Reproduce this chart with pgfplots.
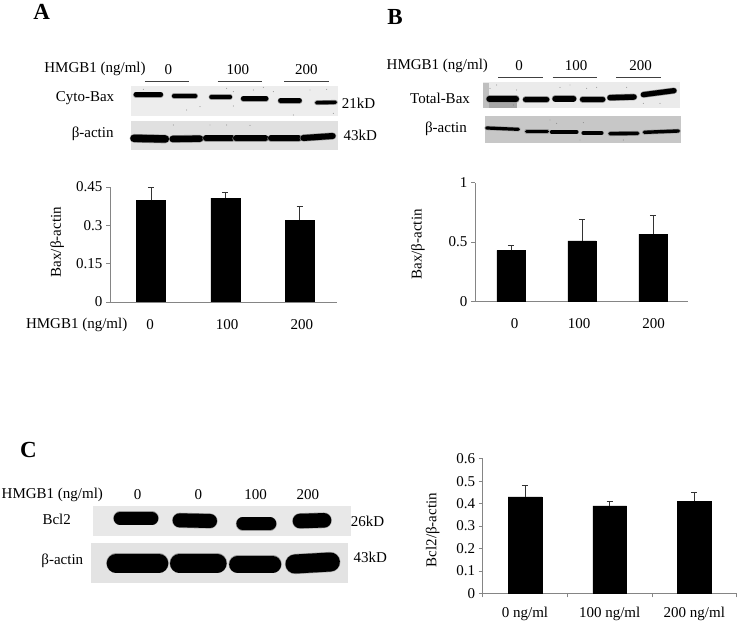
\documentclass[border=0pt]{standalone}
\usepackage{pgfplots}
\pgfplotsset{compat=1.18}
\usepackage{fontspec}
\setmainfont{Liberation Serif}
\newcommand{\lab}{\fontsize{15}{17}\selectfont}
\definecolor{axgray}{HTML}{858585}
% band: x1,y1,x2,y2,thickness (zoomed coordinates)
\newcommand{\band}[5]{%
  \draw[line width=#5pt+1.2pt,line cap=round,black!40] (#1,#2)--(#3,#4);
  \draw[line width=#5pt,line cap=round,black] (#1,#2)--(#3,#4);}
\newcommand{\specks}[1]{\foreach \px/\py in {#1} \fill[black!55] (\px,\py) circle (0.45pt);}
\pgfplotsset{
  panel/.style={
    scale only axis,
    anchor=south west,
    ybar,
    bar shift=0pt,
    ymin=0,
    axis x line*=bottom,
    axis y line*=left,
    xtick pos=bottom,
    ytick pos=left,
    tick align=outside,
    axis line style={axgray,line width=0.7pt},
    tick style={axgray,line width=0.7pt},
    major tick length=4pt,
    xtick style={draw=none},
    scaled y ticks=false,
    tick label style={font=\lab},
    label style={font=\lab},
    /pgf/number format/assume math mode=true,
    error bars/y dir=plus,
    error bars/y explicit,
    error bars/error bar style={black!80,line width=0.9pt},
    error bars/error mark options={rotate=90,mark size=3.1pt,black!80,line width=0.9pt},
  },
}
\begin{document}
\begin{tikzpicture}[x=1pt,y=1pt]
\path[use as bounding box] (0,0) rectangle (739,621);

% ---------- Panel A axis
\begin{axis}[panel,at={(110pt,319pt)},width=227pt,height=115pt,
  xmin=-0.552,xmax=2.503,ymax=0.45,bar width=29pt,
  xtick={-0.013,1.023,2.03},
  xticklabels={0,100,200},
  xticklabel style={yshift=-10pt},
  ytick={0,0.15,0.3,0.45},yticklabels={0,0.15,0.3,0.45},
  ylabel={Bax/β-actin},
  y label style={at={(axis description cs:-0.233,0.52)},anchor=center}]
\addplot[fill=black,draw=black] coordinates {(0,0.398) +- (0,0.051) (1,0.406) +- (0,0.022) (2,0.32) +- (0,0.052)};
\end{axis}

% ---------- Panel B axis
\begin{axis}[panel,at={(475pt,319.7pt)},width=213pt,height=118.7pt,
  xmin=-0.507,xmax=2.493,ymax=1,bar width=28.3pt,
  xtick={0.05,0.958,2.01},
  xticklabels={0,100,200},
  xticklabel style={yshift=-10pt},
  ytick={0,0.5,1},yticklabels={0,0.5,1},
  ylabel={Bax/β-actin},
  y label style={at={(axis description cs:-0.268,0.48)},anchor=center}]
\addplot[fill=black,draw=black] coordinates {(0,0.43) +- (0,0.04) (1,0.508) +- (0,0.182) (2,0.565) +- (0,0.16)};
\end{axis}

% ---------- Panel C axis
\begin{axis}[panel,at={(482.7pt,27.7pt)},width=254pt,height=134.6pt,
  xmin=-0.5,xmax=2.5,ymax=0.6,bar width=33.7pt,
  xtick={0,1,2},
  xticklabels={0 ng/ml,100 ng/ml,200 ng/ml},
  xticklabel style={yshift=-6pt},
  minor xtick={-0.5,0.5,1.5,2.5},
  minor x tick style={draw=axgray,line width=0.7pt},
  minor tick length=4pt,
  ytick={0,0.1,0.2,0.3,0.4,0.5,0.6},yticklabels={0,0.1,0.2,0.3,0.4,0.5,0.6},
  ylabel={Bcl2/β-actin},
  y label style={at={(axis description cs:-0.197,0.47)},anchor=center}]
\addplot[fill=black,draw=black] coordinates {(0,0.43) +- (0,0.05) (1,0.39) +- (0,0.02) (2,0.41) +- (0,0.04)};
\end{axis}

% ---------- Panel A annotations and blots (coordinates: 3x zoom from top-left)
\begin{scope}[x=0.33333pt,y=-0.33333pt,shift={(0pt,621pt)},every node/.style={font=\lab,inner sep=0pt}]
\node[font=\fontsize{23}{25}\selectfont\bfseries] at (125,37) {A};
\node at (285,208) {HMGB1 (ng/ml)};
\node at (505,208) {0};
\node at (714,208) {100};
\node at (919,208) {200};
\foreach \a/\b in {435/568,653/786,853/987} \draw[black!75,line width=0.8pt] (\a,245)--(\b,245);
\node at (255,295) {Cyto-Bax};
\node at (278,400) {β-actin};
\fill[black!7] (392,258) rectangle (1015,348);
\fill[black!12] (392,363) rectangle (1015,449);
\specks{430/268,560/330,600/320,680/265,700/275,700/318,760/270,790/262,820/275,880/345,930/270,980/268,1000/340,520/375,630/375,680/375,750/376}
\band{408}{284}{482}{284}{4.8}
\band{522}{288}{586}{288}{4.2}
\band{634}{291}{690}{291}{4.2}
\band{730}{296}{798}{296}{4.8}
\band{842}{302}{898}{302}{5}
\band{950}{308}{1006}{307}{3.6}
\band{402}{415}{496}{417}{7.5}
\band{518}{417}{600}{416}{6.5}
\band{618}{415}{696}{415}{6}
\band{708}{415}{796}{415}{6}
\band{813}{415}{896}{415}{6}
\band{910}{414}{998}{408}{6}
\node[anchor=west] at (1025,311) {21kD};
\node[anchor=west] at (1030,405) {43kD};
\node at (230,975) {HMGB1 (ng/ml)};
\end{scope}

% ---------- Panel B annotations and blots
\begin{scope}[x=0.33333pt,y=-0.33333pt,shift={(370pt,621pt)},every node/.style={font=\lab,inner sep=0pt}]
\node[font=\fontsize{23}{25}\selectfont\bfseries] at (75,50) {B};
\node at (202,198) {HMGB1 (ng/ml)};
\node at (447,198) {0};
\node at (618,198) {100};
\node at (812,198) {200};
\foreach \a/\b in {385/519,548/681,738/872} \draw[black!75,line width=0.8pt] (\a,233)--(\b,233);
\node at (210,296) {Total-Bax};
\node at (228,385) {β-actin};
\fill[black!8] (340,247) rectangle (930,325);
\fill[black!22] (345,349) rectangle (933,430);
\fill[black!35] (340,310) rectangle (440,325);
\fill[black!25] (340,250) rectangle (356,325);
\specks{360/265,380/255,440/270,430/315,570/262,600/255,650/265,680/262,770/262,820/310,870/310,540/360,560/370,640/368,630/420,760/420}
\band{358}{297}{438}{297}{6}
\band{467}{299}{530}{299}{5.5}
\band{556}{296}{610}{296}{6}
\band{638}{298}{698}{298}{5.5}
\band{720}{293}{792}{291}{5.5}
\band{820}{284}{912}{272}{5.2}
\band{350}{384}{445}{388}{3.2}
\band{470}{394}{532}{394}{3.6}
\band{545}{396}{620}{396}{3.6}
\band{640}{399}{695}{399}{3.6}
\band{720}{401}{803}{400}{3.6}
\band{823}{397}{925}{393}{3.4}
\end{scope}

% ---------- Panel C annotations and blots
\begin{scope}[x=0.33333pt,y=-0.33333pt,shift={(0pt,191pt)},every node/.style={font=\lab,inner sep=0pt}]
\node[font=\fontsize{23}{25}\selectfont\bfseries] at (85,60) {C};
\node at (157,195) {HMGB1 (ng/ml)};
\node at (413,195) {0};
\node at (595,195) {0};
\node at (767,195) {100};
\node at (924,195) {200};
\node at (170,268) {Bcl2};
\node at (187,393) {β-actin};
\fill[black!9] (280,228) rectangle (1052,318);
\fill[black!11] (273,340) rectangle (1043,460);
\band{360}{265}{456}{265}{12.5}
\band{539}{271}{630}{273}{14}
\band{728}{281}{810}{281}{12.5}
\band{900}{273}{972}{271}{14.5}
\band{348}{400}{477}{400}{18.5}
\band{538}{400}{652}{400}{18.5}
\band{713}{403}{818}{403}{17}
\band{885}{402}{991}{396}{19}
\node[anchor=west] at (1052,275) {26kD};
\node[anchor=west] at (1060,383) {43kD};
\end{scope}
\end{tikzpicture}
\end{document}
